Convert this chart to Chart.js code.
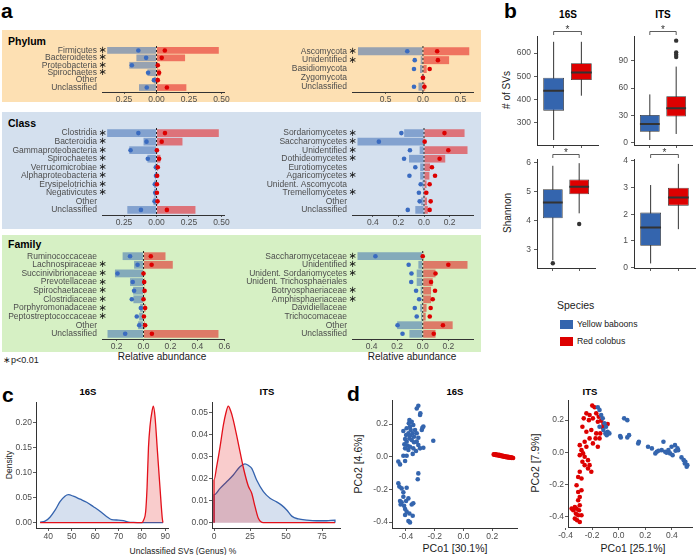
<!DOCTYPE html>
<html>
<head>
<meta charset="utf-8">
<script src="https://cdn.jsdelivr.net/npm/chart.js@4.4.1/dist/chart.umd.min.js"></script>
<style>
  body { margin: 0; width: 696px; height: 555px; position: relative; overflow: hidden; background: #fff;
         font-family: "Liberation Sans", Arial, sans-serif; color: #1a1a1a; }
  canvas { position: absolute; }
  .bg { position: absolute; left: 2px; width: 479px; }
  .t { position: absolute; white-space: nowrap; line-height: 1; }
  .c { transform: translate(-50%, -50%); }
  .v { transform: translate(-50%, -50%) rotate(-90deg); }
  .L { font-weight: bold; font-size: 21px; color: #000; }
  .h { font-weight: bold; font-size: 10px; color: #000; }
  .sw { position: absolute; left: 560px; width: 13px; height: 9px; }
</style>
</head>
<body>
<!-- panel a backgrounds -->
<div class="bg" style="top:30px;height:72px;background:#fde0b3"></div>
<div class="bg" style="top:112px;height:117px;background:#d4e0ee"></div>
<div class="bg" style="top:235px;height:117px;background:#d6f0c4"></div>

<div class="t L" style="left:1px;top:0px">a</div>
<div class="t L" style="left:504px;top:0px">b</div>
<div class="t L" style="left:2px;top:384px">c</div>
<div class="t L" style="left:347px;top:383px">d</div>

<div class="t h" style="left:8px;top:36px;font-size:10.5px">Phylum</div>
<div class="t h" style="left:8px;top:118px;font-size:10.5px">Class</div>
<div class="t h" style="left:8px;top:239px;font-size:10.5px">Family</div>
<div class="t c" style="left:162px;top:357px;font-size:10px">Relative abundance</div>
<div class="t c" style="left:412px;top:357px;font-size:10px">Relative abundance</div>
<div class="t" style="left:3px;top:356px;font-size:9px">∗p&lt;0.01</div>

<div class="t h c" style="left:568px;top:15px">16S</div>
<div class="t h c" style="left:663px;top:15px">ITS</div>
<div class="t v" style="left:507px;top:90px;font-size:10px">#&nbsp;of SVs</div>
<div class="t v" style="left:508px;top:213px;font-size:10px">Shannon</div>

<div class="t" style="left:557px;top:300px;font-size:10.5px">Species</div>
<div class="sw" style="top:320px;background:#3465ae"></div>
<div class="sw" style="top:337px;background:#dd0000"></div>
<div class="t" style="left:577px;top:320px;font-size:8.7px">Yellow baboons</div>
<div class="t" style="left:577px;top:337px;font-size:8.7px">Red colobus</div>

<div class="t h c" style="left:88px;top:392px;font-size:9.5px">16S</div>
<div class="t h c" style="left:267px;top:392px;font-size:9.5px">ITS</div>
<div class="t v" style="left:9px;top:465px;font-size:8.5px">Density</div>
<div class="t c" style="left:183px;top:551px;font-size:8.5px">Unclassified SVs (Genus) %</div>

<div class="t h c" style="left:455px;top:392px;font-size:9.5px">16S</div>
<div class="t h c" style="left:590px;top:392px;font-size:9.5px">ITS</div>
<div class="t v" style="left:358px;top:464px;font-size:10.5px">PCo2 [4.6%]</div>
<div class="t v" style="left:535px;top:463px;font-size:10.5px">PCo2 [7.9%]</div>
<div class="t c" style="left:455px;top:548px;font-size:10.5px">PCo1 [30.1%]</div>
<div class="t c" style="left:633px;top:548px;font-size:10.5px">PCo1 [25.1%]</div>

<script>
// ---- panel a: relative abundance (baboon values negative, colobus positive)
const phylum16sCats = ["Firmicutes", "Bacteroidetes", "Proteobacteria", "Spirochaetes", "Other", "Unclassified"];
const phylum16sSig = [1, 1, 1, 1, 0, 0];
const phylum16sBarBab = [-0.38, -0.155, -0.21, -0.07, -0.02, -0.135];
const phylum16sDotBab = [-0.14, -0.08, -0.19, -0.065, -0.02, -0.075];
const phylum16sBarCol = [0.48, 0.22, 0.01, 0.03, 0.01, 0.23];
const phylum16sDotCol = [0.064, 0.04, 0.01, 0.02, 0.01, 0.08];

const phylumItsCats = ["Ascomycota", "Unidentified", "Basidiomycota", "Zygomycota", "Unclassified"];
const phylumItsSig = [1, 1, 0, 0, 0];
const phylumItsBarBab = [-0.87, -0.03, -0.04, -0.005, -0.06];
const phylumItsDotBab = [-0.21, -0.11, -0.12, 0, -0.12];
const phylumItsBarCol = [0.62, 0.35, 0.05, 0.003, 0.03];
const phylumItsDotCol = [0.19, 0.2, 0.09, 0.0, 0.02];

const class16sCats = ["Clostridia", "Bacteroidia", "Gammaproteobacteria", "Spirochaetes", "Verrucomicrobiae",
  "Alphaproteobacteria", "Erysipelotrichia", "Negativicutes", "Other", "Unclassified"];
const class16sSig = [1, 1, 1, 1, 1, 1, 1, 1, 0, 0];
const class16sBarBab = [-0.38, -0.10, -0.21, -0.07, -0.01, -0.01, -0.018, -0.018, -0.023, -0.225];
const class16sDotBab = [-0.14, -0.077, -0.2, -0.067, -0.005, -0.004, -0.013, -0.01, -0.015, -0.12];
const class16sBarCol = [0.48, 0.20, 0.005, 0.03, 0.01, 0.005, 0.003, 0.003, 0.008, 0.30];
const class16sDotCol = [0.065, 0.04, 0.003, 0.02, 0.01, 0.005, 0.003, 0.003, 0.008, 0.08];

const classItsCats = ["Sordariomycetes", "Saccharomycetes", "Unidentified", "Dothideomycetes", "Eurotiomycetes",
  "Agaricomycetes", "Unident. Ascomycota", "Tremellomycetes", "Other", "Unclassified"];
const classItsSig = [1, 1, 1, 1, 0, 1, 0, 1, 0, 0];
const classItsBarBab = [-0.155, -0.52, -0.034, -0.117, -0.03, -0.03, -0.013, -0.008, -0.023, -0.068];
const classItsDotBab = [-0.177, -0.353, -0.11, -0.156, -0.068, -0.114, -0.026, -0.04, -0.034, -0.127];
const classItsBarCol = [0.317, 0.002, 0.34, 0.166, 0.047, 0.042, 0.02, 0.01, 0.023, 0.03];
const classItsDotCol = [0.16, 0.005, 0.19, 0.122, 0.062, 0.086, 0.044, 0.018, 0.052, 0.044];

const family16sCats = ["Ruminococcaceae", "Lachnospiraceae", "Succinivibrionaceae", "Prevotellaceae", "Spirochaetaceae",
  "Clostridiaceae", "Porphyromonadaceae", "Peptostreptococcaceae", "Other", "Unclassified"];
const family16sSig = [0, 1, 1, 1, 1, 1, 1, 1, 0, 0];
const family16sBarBab = [-0.155, -0.07, -0.212, -0.1, -0.077, -0.075, -0.025, -0.032, -0.04, -0.267];
const family16sDotBab = [-0.1, -0.044, -0.193, -0.08, -0.07, -0.087, -0.02, -0.05, -0.032, -0.136];
const family16sBarCol = [0.163, 0.217, 0.002, 0.008, 0.008, 0.003, 0.015, 0.003, 0.01, 0.556];
const family16sDotCol = [0.054, 0.06, 0.0, 0.005, 0.008, 0.0, 0.012, 0.003, 0.012, 0.062];

const familyItsCats = ["Saccharomycetaceae", "Unidentified", "Unident. Sordariomycetes", "Unident. Trichosphaeriales",
  "Botryosphaeriaceae", "Amphisphaeriaceae", "Davidiellaceae", "Trichocomaceae", "Other", "Unclassified"];
const familyItsSig = [1, 1, 1, 0, 1, 1, 0, 0, 0, 0];
const familyItsBarBab = [-0.51, -0.034, -0.047, -0.047, -0.016, -0.008, -0.02, -0.013, -0.2, -0.104];
const familyItsDotBab = [-0.37, -0.11, -0.088, -0.09, -0.052, -0.028, -0.062, -0.047, -0.197, -0.158];
const familyItsBarCol = [0.002, 0.35, 0.1, 0.078, 0.065, 0.065, 0.03, 0.023, 0.234, 0.1];
const familyItsDotCol = [0.0, 0.2, 0.1, 0.065, 0.096, 0.078, 0.062, 0.055, 0.158, 0.086];

// ---- panel b: boxplots [low whisker, q1, median, q3, high whisker]; outliers [group, value]
const svs16sBab = [227, 353, 438, 494, 648];
const svs16sCol = [417, 484, 516, 556, 648];
const svs16sOut = [];
const svsItsBab = [3, 12, 20.5, 30.5, 53];
const svsItsCol = [9.6, 28.7, 37.8, 51, 83.5];
const svsItsOut = [[1, 112], [1, 99], [1, 96.5], [1, 94]];
const shannon16sBab = [2.62, 4.07, 4.61, 5.07, 5.88];
const shannon16sCol = [4.24, 4.9, 5.16, 5.41, 5.97];
const shannon16sOut = [[0, 2.52], [1, 3.87]];
const shannonItsBab = [0.16, 0.82, 1.5, 2.06, 3.09];
const shannonItsCol = [1.44, 2.32, 2.62, 2.99, 3.88];
const shannonItsOut = [];

// ---- panel c: density curves [x, density]
const dens16sBab = [[36.5, 0.0013], [38.6, 0.003], [40.7, 0.011], [42.9, 0.025], [45, 0.042], [47.1, 0.053],
  [48.6, 0.056], [50.7, 0.053], [53.6, 0.047], [56.4, 0.041], [59.3, 0.032], [62.1, 0.023], [65, 0.012],
  [67.1, 0.006], [70, 0.0053], [72.1, 0.004], [74.3, 0.0013], [76.4, 0.0005], [79.3, 0], [89, 0]];
const dens16sCol = [[36.5, 0], [79.9, 0], [80.8, 0.006], [81.6, 0.022], [82.2, 0.07], [82.8, 0.15], [83.5, 0.195],
  [84.3, 0.222], [84.9, 0.233], [85.6, 0.212], [86.6, 0.145], [87.7, 0.072], [88.7, 0.009], [89, 0]];
const densItsBab = [[0, 0], [0, 0.0126], [4.2, 0.0156], [8.8, 0.0186], [13.4, 0.0217], [18, 0.0255], [21.5, 0.0268],
  [24, 0.026], [26.2, 0.0247], [29.6, 0.0194], [34.3, 0.0141], [38.9, 0.0111], [43.5, 0.0095], [46.9, 0.008],
  [50.5, 0.0058], [54, 0.003], [58.6, 0.0017], [64.4, 0.0012], [71.3, 0.0009], [78.2, 0.0009], [84, 0.0012], [84, 0]];
const densItsCol = [[0, 0], [0, 0.0194], [1.85, 0.0255], [4.2, 0.0345], [6.5, 0.0444], [8.3, 0.05], [9.9, 0.053],
  [11.5, 0.051], [13.4, 0.0467], [16.9, 0.036], [20.4, 0.025], [23.8, 0.0167], [26.2, 0.0134], [28.5, 0.0073],
  [30.8, 0.002], [34.3, 0], [84, 0]];

// ---- panel d: PCoA coordinates [PCo1, PCo2]
const pco16sBab = [[-0.376, 0.224], [-0.36, 0.214], [-0.38, 0.204], [-0.349, 0.194], [-0.371, 0.184], [-0.395, 0.174],
  [-0.418, 0.157], [-0.367, 0.163], [-0.337, 0.163], [-0.353, 0.143], [-0.383, 0.143], [-0.325, 0.143], [-0.399, 0.133],
  [-0.372, 0.128], [-0.344, 0.122], [-0.376, 0.112], [-0.406, 0.108], [-0.314, 0.116], [-0.36, 0.102], [-0.395, 0.092],
  [-0.325, 0.092], [-0.411, 0.076], [-0.388, 0.067], [-0.372, 0.061], [-0.344, 0.088], [-0.314, 0.071], [-0.302, 0.051],
  [-0.406, 0.051], [-0.383, 0.041], [-0.349, 0.051], [-0.33, 0.035], [-0.279, 0.055], [-0.21, 0.098], [-0.29, 0.163],
  [-0.279, 0.184], [-0.286, 0.176], [-0.302, 0.255], [-0.314, 0.312], [-0.325, 0.295], [-0.3, 0.265],
  [-0.418, 0.006], [-0.395, 0.006], [-0.453, -0.03], [-0.441, -0.047], [-0.406, -0.026], [-0.353, 0.017],
  [-0.314, -0.102], [-0.318, -0.138],
  [-0.453, -0.163], [-0.446, -0.183], [-0.43, -0.194], [-0.395, -0.19], [-0.418, -0.218], [-0.441, -0.271],
  [-0.43, -0.279], [-0.399, -0.271], [-0.413, -0.3], [-0.437, -0.292], [-0.36, -0.292], [-0.349, -0.285],
  [-0.395, -0.336], [-0.406, -0.357], [-0.376, -0.347], [-0.353, -0.361], [-0.383, -0.394], [-0.372, -0.402],
  [-0.418, -0.245], [-0.383, -0.255], [-0.406, -0.32]];
const pco16sCol = [[0.210, 0.014], [0.215, 0.012], [0.220, 0.015], [0.224, 0.011], [0.228, 0.013], [0.232, 0.009],
  [0.236, 0.012], [0.240, 0.010], [0.244, 0.007], [0.248, 0.011], [0.252, 0.006], [0.256, 0.009], [0.260, 0.004],
  [0.264, 0.007], [0.268, 0.003], [0.272, 0.006], [0.276, 0.001], [0.280, 0.004], [0.284, 0.000], [0.288, 0.003],
  [0.292, -0.002], [0.296, 0.001], [0.300, -0.003], [0.304, 0.000], [0.308, -0.004], [0.312, -0.001], [0.316, -0.005],
  [0.320, -0.003], [0.325, -0.006], [0.330, -0.004], [0.335, -0.007], [0.340, -0.006], [0.345, -0.008]];
const pcoItsBab = [[-0.157, 0.28], [-0.144, 0.263], [-0.132, 0.232], [-0.12, 0.211], [-0.107, 0.18], [-0.095, 0.159],
  [-0.083, 0.128], [-0.07, 0.118], [-0.144, 0.159], [-0.115, 0.139], [-0.1, 0.118], [-0.09, 0.107], [0.041, 0.211],
  [0.065, 0.2], [0.011, 0.101], [0.065, 0.093], [0.078, 0.107], [0.152, 0.066], [0.147, 0.056], [0.221, 0.035],
  [0.25, 0.025], [0.287, 0.004], [0.324, 0.014], [0.337, 0.066], [0.35, 0.004], [0.398, 0.035], [0.387, -0.006],
  [0.406, -0.017], [0.428, 0.01], [0.448, 0.014], [0.443, 0.025], [0.473, -0.031], [0.49, -0.048], [0.502, -0.058],
  [0.517, -0.079], [0.512, -0.089], [0.498, -0.068], [0.374, 0.014], [0.276, -0.006], [0.424, 0.045], [0.361, -0.002],
  [0.3, 0.01], [0.016, 0.093]];
const pcoItsCol = [[-0.199, 0.29], [-0.181, 0.28], [-0.243, 0.242], [-0.219, 0.232], [-0.169, 0.242], [-0.15, 0.221],
  [-0.263, 0.211], [-0.224, 0.2], [-0.194, 0.211], [-0.157, 0.19], [-0.132, 0.197], [-0.115, 0.176], [-0.083, 0.176],
  [-0.273, 0.159], [-0.243, 0.128], [-0.206, 0.139], [-0.169, 0.118], [-0.139, 0.118], [-0.12, 0.155], [-0.174, 0.087],
  [-0.219, 0.087], [-0.144, 0.087], [-0.256, 0.066], [-0.293, 0.045], [-0.243, 0.035], [-0.28, 0.014], [-0.268, -0.006],
  [-0.293, -0.017], [-0.256, -0.027], [-0.231, -0.048], [-0.273, -0.058], [-0.256, -0.079], [-0.219, -0.079],
  [-0.231, -0.1], [-0.206, -0.12], [-0.293, -0.12], [-0.157, 0.035], [-0.194, 0.056], [-0.305, -0.152], [-0.28, -0.162],
  [-0.317, -0.203], [-0.305, -0.245], [-0.28, -0.234], [-0.293, -0.276], [-0.305, -0.296], [-0.33, -0.338],
  [-0.317, -0.348], [-0.293, -0.327], [-0.342, -0.358], [-0.322, -0.379], [-0.305, -0.389], [-0.28, -0.389],
  [-0.33, -0.41], [-0.313, -0.42], [-0.293, -0.431], [-0.354, -0.348], [-0.298, -0.358]];

// ---- look
const BLUE = "#3465ae", RED = "#dd0000";
const BAR_BLUE = "rgba(49,100,176,0.5)", BAR_RED = "rgba(227,26,28,0.55)";
const DOT_BLUE = "#3a6bc0", DOT_RED = "#dd0000";
const AX = "#333333", TXT = "#4d4d4d";

Chart.defaults.font.family = "'Liberation Sans', Arial, sans-serif";
Chart.defaults.font.size = 8.5;
Chart.defaults.color = TXT;
Chart.defaults.animation = false;
Chart.defaults.responsive = false;
Chart.defaults.events = [];
Chart.defaults.plugins.legend.display = false;
Chart.defaults.plugins.tooltip.enabled = false;

// asterisks next to category names
Chart.register({
  id: "stars",
  afterDatasetsDraw(chart, args, opts) {
    if (!opts || !opts.sig) return;
    const { ctx, chartArea, scales } = chart;
    ctx.save();
    ctx.fillStyle = "#111";
    ctx.font = "10px 'DejaVu Sans'";
    ctx.textAlign = "center";
    ctx.textBaseline = "middle";
    opts.sig.forEach((s, i) => {
      if (s) ctx.fillText("∗", chartArea.left + 0.5, scales.y.getPixelForValue(i));
    });
    ctx.restore();
  },
});

// significance bracket above the two boxes
Chart.register({
  id: "bracket",
  afterDraw(chart, args, opts) {
    if (!opts || !opts.on) return;
    const { ctx, chartArea, scales } = chart;
    const x0 = scales.x.getPixelForValue(0), x1 = scales.x.getPixelForValue(1);
    const y = chartArea.top - 4.5;
    ctx.save();
    ctx.strokeStyle = AX;
    ctx.lineWidth = 0.8;
    ctx.beginPath();
    ctx.moveTo(x0, y + 3.5); ctx.lineTo(x0, y); ctx.lineTo(x1, y); ctx.lineTo(x1, y + 3.5);
    ctx.stroke();
    ctx.fillStyle = AX;
    ctx.font = "10px 'Liberation Sans'";
    ctx.textAlign = "center";
    ctx.textBaseline = "middle";
    ctx.fillText("*", (x0 + x1) / 2, y - 1.5);
    ctx.restore();
  },
});

const setTicks = (vals) => (s) => { s.ticks = vals.map((v) => ({ value: v })); };
const fitW = (w) => (s) => { s.width = w; s.paddingTop = 0; s.paddingBottom = 0; };
const fitH = (h) => (s) => { s.height = h; s.paddingLeft = 0; s.paddingRight = 0; };

function mount(l, t, r, b, yw, pt, pr, xh) {
  const cv = document.createElement("canvas");
  const x = l - yw, y = t - pt;
  cv.width = r + pr - x;
  cv.height = b + xh - y;
  cv.style.left = x + "px";
  cv.style.top = y + "px";
  document.body.appendChild(cv);
  return cv;
}

function axis(min, max, ticks, fmt, fit, tickLen = 3, pad = 1) {
  return {
    type: "linear", min, max, offset: false,
    afterBuildTicks: setTicks(ticks), afterFit: fit,
    grid: { drawOnChartArea: false, offset: false, tickLength: tickLen, color: AX, tickWidth: 0.8 },
    border: { color: AX, width: 1 },
    ticks: { padding: pad, callback: fmt, color: TXT, autoSkip: false, maxRotation: 0 },
  };
}

function abundance(area, cats, sig, barBab, dotBab, barCol, dotCol, xMin, xMax, xTicks, dec) {
  const [l, t, r, b, yw] = area;
  const cv = mount(l, t, r, b, yw, 6, 12, 14);
  const at = (vals) => vals.map((v, i) => ({ x: v, y: i }));
  const n = cats.length;
  new Chart(cv, {
    type: "bar",
    data: {
      datasets: [
        { type: "scatter", data: at(dotCol), pointBackgroundColor: DOT_RED, pointBorderWidth: 0, pointRadius: 2.3, order: 0 },
        { type: "scatter", data: at(dotBab), pointBackgroundColor: DOT_BLUE, pointBorderWidth: 0, pointRadius: 2.3, order: 0 },
        { type: "line", data: [{ x: 0, y: -0.6 }, { x: 0, y: n - 0.4 }], borderColor: "#222", borderWidth: 1,
          borderDash: [2, 2], pointRadius: 0, order: 1 },
        { data: at(barBab), backgroundColor: BAR_BLUE, order: 2 },
        { data: at(barCol), backgroundColor: BAR_RED, order: 2 },
      ],
    },
    options: {
      indexAxis: "y",
      layout: { padding: { top: 6, right: 12, left: 0, bottom: 0 } },
      datasets: { bar: { grouped: false, barPercentage: 0.9, categoryPercentage: 1, borderWidth: 0 } },
      plugins: { stars: { sig } },
      scales: {
        y: {
          type: "linear", reverse: true, min: -0.6, max: n - 0.4, offset: false,
          afterBuildTicks: setTicks(cats.map((c, i) => i)), afterFit: fitW(yw),
          grid: { display: false, drawTicks: false, tickLength: 0, offset: false }, border: { display: false },
          ticks: { autoSkip: false, padding: 5, callback: (v) => cats[v], color: TXT },
        },
        x: axis(xMin, xMax, xTicks, (v) => Math.abs(v).toFixed(dec), fitH(14), 2, 1),
      },
    },
  });
}

function boxplot(area, yw, bab, col, outliers, yMin, yMax, yTicks) {
  const [l, t, r, b] = area;
  const cv = mount(l, t, r, b, yw, 16, 1, 6);
  const groups = [bab, col];
  const hw = 0.375;
  new Chart(cv, {
    type: "bar",
    data: {
      datasets: [
        { type: "scatter", data: outliers.map(([g, v]) => ({ x: g, y: v })), pointBackgroundColor: AX,
          pointBorderWidth: 0, pointRadius: 2.2, order: 0 },
        { type: "line", data: groups.flatMap((s, i) => [{ x: i - hw, y: s[2] }, { x: i + hw, y: s[2] }, { x: i + 0.5, y: null }]),
          borderColor: AX, borderWidth: 2, pointRadius: 0, order: 1 },
        { data: groups.map((s, i) => ({ x: i, y: [s[1], s[3]] })), backgroundColor: [BLUE, RED], borderColor: AX,
          borderWidth: 0.8, borderSkipped: false, barPercentage: 0.75, categoryPercentage: 1, order: 2 },
        { type: "line", data: groups.flatMap((s, i) => [{ x: i, y: s[0] }, { x: i, y: s[4] }, { x: i + 0.5, y: null }]),
          borderColor: AX, borderWidth: 1, pointRadius: 0, order: 3 },
      ],
    },
    options: {
      layout: { padding: { top: 16, right: 1, left: 0, bottom: 0 } },
      plugins: { bracket: { on: true } },
      scales: {
        x: axis(-0.6, 1.6, [0, 1], () => "", fitH(6)),
        y: axis(yMin, yMax, yTicks, (v) => String(v), fitW(yw), 3, 3),
      },
    },
  });
}

function density(area, yw, series, xMin, xMax, xTicks, yMin, yMax, yTicks) {
  const [l, t, r, b] = area;
  const cv = mount(l, t, r, b, yw, 6, 8, 14);
  new Chart(cv, {
    type: "line",
    data: {
      datasets: series.map(([pts, color, fillc, order]) => ({
        data: pts.map(([x, y]) => ({ x, y })), borderColor: color, backgroundColor: fillc, fill: "origin",
        borderWidth: 1.3, pointRadius: 0, cubicInterpolationMode: "monotone", order,
      })),
    },
    options: {
      layout: { padding: { top: 6, right: 8, left: 0, bottom: 0 } },
      scales: {
        x: axis(xMin, xMax, xTicks, (v) => String(v), fitH(14)),
        y: axis(yMin, yMax, yTicks, (v) => v.toFixed(2), fitW(yw)),
      },
    },
  });
}

function pcoa(area, yw, pr, bab, col, xMin, xMax, yMin, yMax, ticks) {
  const [l, t, r, b] = area;
  const cv = mount(l, t, r, b, yw, 6, pr, 14);
  const pts = (arr) => arr.map(([x, y]) => ({ x, y }));
  new Chart(cv, {
    type: "scatter",
    data: {
      datasets: [
        { data: pts(bab), pointBackgroundColor: BLUE, pointBorderWidth: 0, pointRadius: 2.3, order: 0 },
        { data: pts(col), pointBackgroundColor: RED, pointBorderWidth: 0, pointRadius: 2.3, order: 1 },
      ],
    },
    options: {
      layout: { padding: { top: 6, right: pr, left: 0, bottom: 0 } },
      scales: {
        x: axis(xMin, xMax, ticks, (v) => v.toFixed(1), fitH(14)),
        y: axis(yMin, yMax, ticks, (v) => v.toFixed(1), fitW(yw)),
      },
    },
  });
}

// panel a
abundance([102, 46, 224, 92, 102], phylum16sCats, phylum16sSig, phylum16sBarBab, phylum16sDotBab, phylum16sBarCol,
  phylum16sDotCol, -0.42, 0.52, [-0.25, 0, 0.25, 0.5], 2);
abundance([352, 46, 473, 92, 126], phylumItsCats, phylumItsSig, phylumItsBarBab, phylumItsDotBab, phylumItsBarCol,
  phylumItsDotCol, -0.95, 0.67, [-0.5, 0, 0.5], 1);
abundance([102, 128, 224, 215, 102], class16sCats, class16sSig, class16sBarBab, class16sDotBab, class16sBarCol,
  class16sDotCol, -0.42, 0.52, [-0.25, 0, 0.25, 0.5], 2);
abundance([352, 128, 473, 215, 126], classItsCats, classItsSig, classItsBarBab, classItsDotBab, classItsBarCol,
  classItsDotCol, -0.563, 0.383, [-0.4, -0.2, 0, 0.2], 1);
abundance([102, 251, 224, 339, 102], family16sCats, family16sSig, family16sBarBab, family16sDotBab, family16sBarCol,
  family16sDotCol, -0.308, 0.597, [-0.2, 0, 0.2, 0.4, 0.6], 1);
abundance([352, 251, 473, 339, 126], familyItsCats, familyItsSig, familyItsBarBab, familyItsDotBab, familyItsBarCol,
  familyItsDotCol, -0.553, 0.393, [-0.4, -0.2, 0, 0.2], 1);

// panel b
boxplot([537, 36, 598, 145], 27, svs16sBab, svs16sCol, svs16sOut, 205.7, 672.9, [300, 400, 500, 600]);
boxplot([634, 36, 695, 145], 26, svsItsBab, svsItsCol, svsItsOut, -2.5, 117.1, [0, 30, 60, 90]);
boxplot([537, 159, 598, 268], 27, shannon16sBab, shannon16sCol, shannon16sOut, 2.355, 6.114, [3, 4, 5, 6]);
boxplot([634, 159, 695, 268], 26, shannonItsBab, shannonItsCol, shannonItsOut, -0.011, 4.063, [0, 1, 2, 3, 4]);

// panel c
density([36, 402, 168, 528], 24,
  [[dens16sCol, "#e3101a", "rgba(224,0,0,0.2)", 0], [dens16sBab, "#3463ae", "rgba(49,99,176,0.2)", 1]],
  34.74, 91.15, [40, 50, 60, 70, 80, 90], -0.0106, 0.2414, [0, 0.05, 0.1, 0.15, 0.2]);
density([212, 402, 340, 528], 26,
  [[densItsCol, "#e3101a", "rgba(224,0,0,0.2)", 0], [densItsBab, "#3463ae", "rgba(49,99,176,0.2)", 1]],
  -1.39, 87.5, [0, 25, 50, 75], -0.0024, 0.0549, [0, 0.01, 0.02, 0.03, 0.04, 0.05]);

// panel d
pcoa([392, 400, 517, 528], 24, 8, pco16sBab, pco16sCol, -0.497, 0.372, -0.4361, 0.3468, [-0.4, -0.2, 0, 0.2]);
pcoa([568, 400, 694, 527], 24, 2, pcoItsBab, pcoItsCol, -0.3815, 0.552, -0.4621, 0.3248, [-0.4, -0.2, 0, 0.2, 0.4]);
</script>
</body>
</html>
